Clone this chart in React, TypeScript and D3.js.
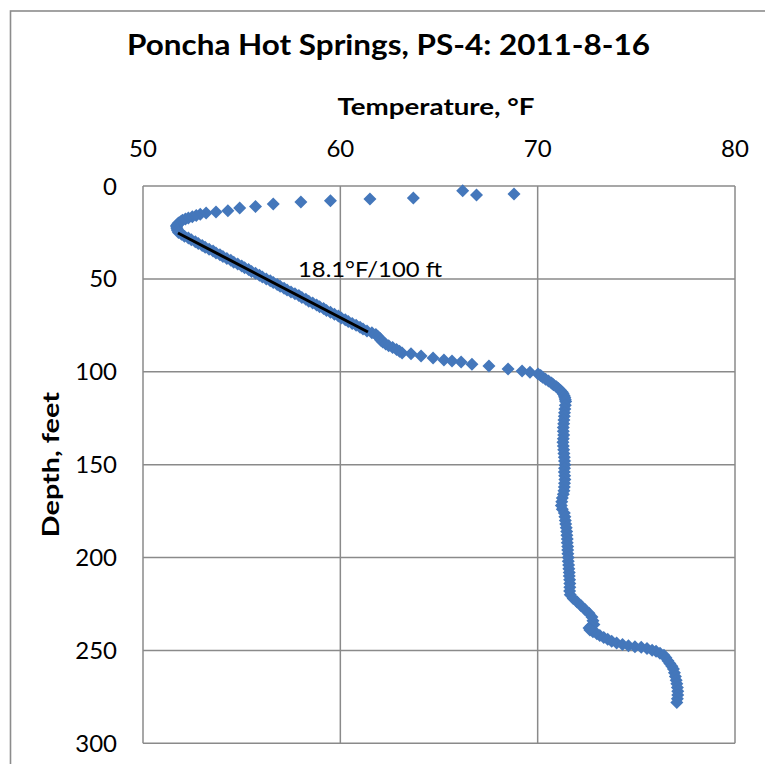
import React from "react";
import * as d3 from "d3";

// ---- Data ----
const depthFt: number[] = [
  // shallow, sparse readings
  2.5, 4.3, 4.8, 6.5, 7.0, 7.9, 8.6, 9.7, 11.1, 11.8, 13.3, 14.0, 14.5, 15.2, 15.9, 16.5, 17.2, 17.8, 18.5, 19.2, 19.9, 20.6, 21.3, 22.0, 22.7, 23.4,
  // linear gradient section
  24, 25, 26, 27, 28, 29, 30, 31, 32, 33, 34, 35, 36, 37, 38, 39, 40, 41, 42, 43, 44, 45, 46, 47, 48, 49, 50,
  51, 52, 53, 54, 55, 56, 57, 58, 59, 60, 61, 62, 63, 64, 65, 66, 67, 68, 69, 70, 71, 72, 73, 74, 75, 76, 77, 78, 79, 80,
  81, 82, 83, 84, 85, 86, 87, 88, 89,
  // transition near 100 ft
  89.9, 90.3, 91.5, 92.6, 93.7, 94.2, 94.8, 95.9, 96.9, 98.5, 99.6, 100.2, 101.2,
  102, 103, 104, 105, 106, 107, 108, 109, 110, 111, 112, 113, 114, 115,
  // near-isothermal section
  116, 118, 120, 122, 124, 126, 128, 130, 132, 134, 136, 138, 140, 142, 144, 146, 148, 150, 152, 154, 156, 158, 160,
  162, 164, 166, 168, 170, 172, 174, 176, 178, 180, 182, 184, 186, 188, 190, 192, 194, 196, 198, 200, 202, 204, 206,
  208, 210, 212, 214, 216, 218, 220,
  // lower section
  222, 224, 226, 228, 230, 232, 234, 236, 237, 238, 239, 240, 241, 242, 243, 244, 245, 246, 246.8, 247.5, 248, 248.3,
  249, 249.9, 250.5, 251.5, 252.6, 254, 255.5, 257, 258.5, 260, 262, 264, 266, 268, 270, 272, 274, 276, 278, 279.5,
];

const tempF: number[] = [
  66.2, 68.8, 66.9, 63.7, 61.5, 59.5, 58.0, 56.6, 55.7, 54.9, 54.3, 53.7, 53.2, 52.9, 52.7, 52.5, 52.3, 52.15, 52.0, 51.9, 51.8, 51.75, 51.7, 51.7, 51.72, 51.75,
  51.75, 51.8, 51.95, 52.1, 52.3, 52.45, 52.65, 52.8, 53.0, 53.15, 53.35, 53.55, 53.7, 53.9, 54.05, 54.25, 54.45, 54.6, 54.8, 55.0, 55.15, 55.35, 55.5, 55.7, 55.9, 56.05, 56.25,
  56.45, 56.6, 56.8, 56.95, 57.15, 57.3, 57.5, 57.7, 57.9, 58.05, 58.25, 58.4, 58.6, 58.8, 58.95, 59.15, 59.3, 59.5, 59.7, 59.9, 60.05, 60.25, 60.4, 60.6, 60.8, 61.0, 61.15, 61.35, 61.6, 61.8,
  61.9, 62.0, 62.05, 62.15, 62.3, 62.45, 62.65, 62.85, 63.0,
  63.13, 63.58, 64.09, 64.7, 65.25, 65.66, 66.12, 66.67, 67.53, 68.5, 69.21, 69.61, 70.02,
  70.15, 70.25, 70.4, 70.55, 70.7, 70.8, 70.95, 71.05, 71.15, 71.25, 71.3, 71.35, 71.38, 71.4,
  71.42, 71.4, 71.38, 71.36, 71.35, 71.33, 71.32, 71.3, 71.3, 71.32, 71.3, 71.28, 71.3, 71.32, 71.33, 71.35, 71.36, 71.38, 71.36, 71.35, 71.37, 71.38, 71.36,
  71.35, 71.33, 71.3, 71.25, 71.22, 71.2, 71.25, 71.35, 71.38, 71.4, 71.42, 71.45, 71.47, 71.48, 71.5, 71.5, 71.52, 71.52, 71.53, 71.55, 71.55, 71.57,
  71.58, 71.6, 71.6, 71.62, 71.63, 71.63, 71.62,
  71.65, 71.8, 72.0, 72.2, 72.4, 72.6, 72.75, 72.8, 72.85, 72.7, 72.6, 72.65, 72.8, 73.0, 73.15, 73.35, 73.55, 73.75, 74.0, 74.3, 74.6, 74.93,
  75.25, 75.54, 75.8, 76.0, 76.2, 76.4, 76.5, 76.6, 76.7, 76.8, 76.88, 76.93, 76.98, 77.02, 77.05, 77.08, 77.1, 77.1, 77.08, 77.05,
];

// Gradient fit line endpoints (temperature °F, depth ft)
const trendTemp: number[] = [51.77, 61.4];
const trendDepth: number[] = [25.3, 78.6];

const xTicks: number[] = [50, 60, 70, 80];
const yTicks: number[] = [0, 50, 100, 150, 200, 250, 300];

const title = "Poncha Hot Springs, PS-4: 2011-8-16";
const xTitle = "Temperature, °F";
const yTitle = "Depth, feet";
const annotation = "18.1°F/100 ft";

export default function App() {
  const W = 765;
  const H = 764;
  const left = 143;
  const right = 735;
  const top = 186;
  const bottom = 743.3;

  const x = d3.scaleLinear().domain([50, 80]).range([left, right]);
  const y = d3.scaleLinear().domain([0, 300]).range([top, bottom]);

  const font = "Lato, 'Open Sans', 'DejaVu Sans', sans-serif";
  const grid = "#8a8a8a";
  const blue = "#4477bb";
  const r = 6.5; // half diagonal of diamond marker

  const diamond = (cx: number, cy: number) =>
    `M${cx},${cy - r}L${cx + r},${cy}L${cx},${cy + r}L${cx - r},${cy}Z`;

  const points = depthFt.map((d, i) => ({ d, t: tempF[i] }));
  const trendLine = d3
    .line<number>()
    .x((_, i) => x(trendTemp[i]))
    .y((dd) => y(dd))(trendDepth);

  return (
    <svg
      width={W}
      height={H}
      style={{ position: "absolute", left: 0, top: 0, background: "#ffffff" }}
    >
      <rect x={0} y={0} width={W} height={H} fill="#ffffff" />
      {/* chart area border (extends beyond picture) */}
      <rect x={10.5} y={11} width={900} height={900} fill="none" stroke="#8c8c8c" strokeWidth={1.6} />

      {/* title */}
      <text
        x={388.5}
        y={55}
        textAnchor="middle"
        fontFamily={font}
        fontWeight="bold"
        fontSize={28}
        textLength={523}
        lengthAdjust="spacingAndGlyphs"
        fill="#000"
      >
        {title}
      </text>

      {/* x axis title */}
      <text
        x={(left + right) / 2 - 3}
        y={115}
        textAnchor="middle"
        fontFamily={font}
        fontWeight="bold"
        fontSize={23}
        textLength={197}
        lengthAdjust="spacingAndGlyphs"
        fill="#000"
      >
        {xTitle}
      </text>

      {/* y axis title */}
      <text
        transform={`translate(59,${(top + bottom) / 2}) rotate(-90)`}
        textAnchor="middle"
        fontFamily={font}
        fontWeight="bold"
        fontSize={23}
        textLength={145}
        lengthAdjust="spacingAndGlyphs"
        fill="#000"
      >
        {yTitle}
      </text>

      {/* gridlines */}
      {xTicks.map((t) => (
        <line key={"gx" + t} x1={x(t)} x2={x(t)} y1={top} y2={bottom} stroke={grid} strokeWidth={1.5} />
      ))}
      {yTicks.map((t) => (
        <line key={"gy" + t} x1={left} x2={right} y1={y(t)} y2={y(t)} stroke={grid} strokeWidth={1.5} />
      ))}

      {/* tick labels */}
      {xTicks.map((t) => (
        <text key={"tx" + t} x={x(t)} y={157} textAnchor="middle" fontFamily={font} fontSize={24} fill="#000">
          {t}
        </text>
      ))}
      {yTicks.map((t) => (
        <text key={"ty" + t} x={117} y={y(t) + 8.5} textAnchor="end" fontFamily={font} fontSize={24} fill="#000">
          {t}
        </text>
      ))}

      {/* data markers */}
      {points.map((p, i) => (
        <path key={"p" + i} d={diamond(x(p.t), y(p.d))} fill={blue} />
      ))}

      {/* gradient line */}
      <path d={trendLine || ""} fill="none" stroke="#000" strokeWidth={3} />

      {/* annotation */}
      <text
        x={298}
        y={277}
        fontFamily={font}
        fontSize={21}
        textLength={144}
        lengthAdjust="spacingAndGlyphs"
        fill="#000"
      >
        {annotation}
      </text>
    </svg>
  );
}
